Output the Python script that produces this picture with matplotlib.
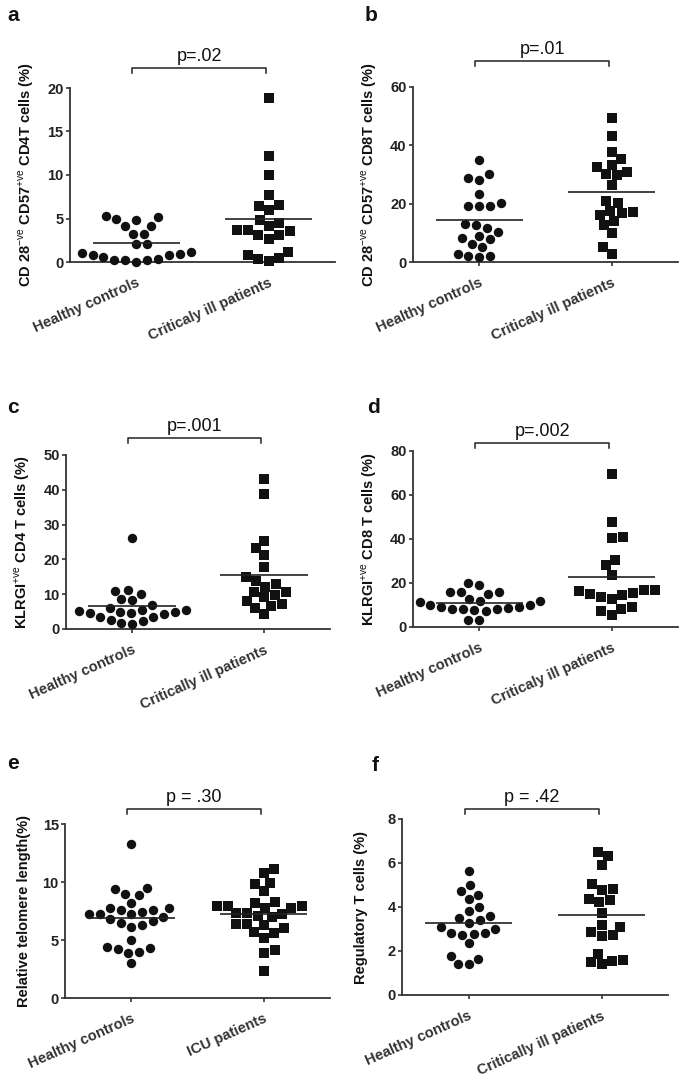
import numpy as np
import matplotlib
matplotlib.use('Agg')
import matplotlib.pyplot as plt
import matplotlib.transforms as mtransforms

plt.rcParams['font.family'] = ['Liberation Sans', 'DejaVu Sans']
plt.rcParams['mathtext.fontset'] = 'custom'
plt.rcParams['mathtext.rm'] = 'Liberation Sans'
plt.rcParams['mathtext.bf'] = 'Liberation Sans:bold'

# ---- data ----
a_healthy = [5.25, 4.94, 4.87, 5.17, 4.18, 4.18, 3.26, 3.26, 2.07, 2.07, 0.77,
             1.11, 0.96, 0.84, 1.03, 0.38, 0.19, 0.23, 0.27, 0.54, 0.0]
a_critical = [18.9, 12.2, 9.96, 7.74, 6.47, 6.59, 6.0, 4.87, 4.18, 4.48, 3.68,
              3.52, 3.14, 2.68, 3.14, 3.64, 1.15, 0.46, 0.08, 0.34, 0.84]

b_healthy = [34.97, 28.9, 28.1, 30.06, 23.3, 20.1, 19.2, 19.2, 19.3, 12.6, 11.8,
             13.0, 10.4, 9.0, 8.0, 8.1, 5.26, 6.3, 2.17, 1.7, 1.94, 2.86]
b_critical = [49.4, 43.3, 37.8, 35.3, 32.5, 33.3, 30.2, 31.0, 29.8, 26.5, 21.0,
              20.3, 17.6, 16.8, 16.0, 17.1, 14.1, 12.6, 9.9, 5.0, 2.86]

c_healthy = [26.1, 11.0, 10.1, 11.1, 8.2, 8.5, 6.9, 5.9, 5.6, 5.0, 5.0, 4.7,
             5.3, 5.6, 4.3, 3.4, 3.4, 2.4, 2.6, 1.5, 1.8, 4.6]
c_critical = [43.2, 38.7, 25.3, 23.2, 21.2, 17.9, 15.0, 13.7, 12.2, 12.9, 10.5,
              10.7, 9.1, 9.8, 8.1, 6.7, 5.9, 7.1, 4.3]

d_healthy = [19.2, 20.0, 15.9, 15.2, 15.8, 16.1, 12.7, 11.7, 11.4, 12.0, 9.8,
             8.9, 7.1, 8.9, 8.3, 7.6, 8.6, 9.8, 8.3, 8.3, 3.2, 3.2]
d_critical = [69.4, 47.7, 40.5, 40.9, 30.5, 28.0, 23.8, 17.0, 16.2, 15.2, 13.6,
              12.9, 14.4, 15.5, 17.0, 8.3, 5.6, 7.4, 9.2]

e_healthy = [13.3, 9.4, 9.5, 8.9, 9.0, 8.2, 7.8, 7.6, 7.6, 7.8, 7.0, 7.2, 7.2,
             7.2, 7.4, 6.65, 6.5, 6.8, 6.3, 6.15, 5.0, 4.4, 4.2, 3.9, 4.3, 3.0, 4.0]
e_icu = [11.1, 10.8, 9.95, 9.8, 9.2, 8.25, 8.15, 7.95, 7.8, 7.8, 7.95, 7.95,
         7.35, 7.2, 7.35, 6.95, 7.1, 6.4, 6.3, 6.4, 6.0, 5.7, 5.6, 5.2, 4.1, 3.9, 2.3]

f_healthy = [5.63, 5.02, 4.72, 4.54, 4.35, 4.0, 3.82, 3.6, 3.52, 3.29, 3.4, 3.02,
             3.08, 2.81, 2.73, 2.78, 2.81, 2.35, 1.62, 1.79, 1.4, 1.4]
f_critical = [6.48, 6.3, 5.9, 5.05, 4.84, 4.78, 4.34, 4.36, 4.23, 3.75, 3.19,
              2.87, 3.11, 2.69, 2.72, 1.87, 1.56, 1.4, 1.5, 1.59]

panel_letters = ['a', 'b', 'c', 'd', 'e', 'f']
p_labels = ['p=.02', 'p=.01', 'p=.001', 'p=.002', 'p = .30', 'p = .42']
y_labels = [r'CD 28$^{\mathrm{-ve}}$ CD57$^{\mathrm{+ve}}$ CD4T cells (%)',
            r'CD 28$^{\mathrm{-ve}}$ CD57$^{\mathrm{+ve}}$ CD8T cells (%)',
            r'KLRGI$^{\mathrm{+ve}}$ CD4 T cells (%)',
            r'KLRGI$^{\mathrm{+ve}}$ CD8 T cells (%)',
            'Relative telomere length(%)',
            'Regulatory T cells (%)']
x_labels = [['Healthy controls', 'Criticaly ill patients'],
            ['Healthy controls', 'Criticaly ill patients'],
            ['Healthy controls', 'Critically ill patients'],
            ['Healthy controls', 'Criticaly ill patients'],
            ['Healthy controls', 'ICU patients'],
            ['Healthy controls', 'Critically ill patients']]
y_max = [20, 60, 50, 80, 15, 8]
y_step = [5, 20, 10, 20, 5, 2]
series = [(a_healthy, a_critical), (b_healthy, b_critical), (c_healthy, c_critical),
          (d_healthy, d_critical), (e_healthy, e_icu), (f_healthy, f_critical)]

# layout in pixels: left, right, top (y max), bottom (y=0)
W, H = 685, 1079
boxes = [(70, 335, 88, 262), (413, 678, 87, 262),
         (66, 330, 455, 629), (413, 678, 451, 627),
         (65, 330, 824, 998), (402, 668, 819, 995)]
bracket_y = [68, 61, 438, 443, 809, 809]
letter_pos = [(7, 21), (365, 21), (7, 413), (367, 413), (7, 769), (372, 771)]

INK = '#111111'


def swarm_x(ax, vals, xc, diam):
    pts = ax.transData.transform(np.column_stack([np.full(len(vals), xc), vals]))
    ypix = pts[:, 1]
    x0 = pts[0, 0]
    placed = []
    off = np.zeros(len(vals))
    flip = 1
    for i in np.argsort(ypix):
        found = None
        for k in range(400):
            cands = [0.0] if k == 0 else [flip * k * 0.5, -flip * k * 0.5]
            for c in cands:
                if all((c - px) ** 2 + (ypix[i] - py) ** 2 >= diam ** 2 for px, py in placed):
                    found = c
                    break
            if found is not None:
                break
        placed.append((found, ypix[i]))
        off[i] = found
        flip = -flip
    inv = ax.transData.inverted()
    return inv.transform(np.column_stack([x0 + off, ypix]))[:, 0]


fig = plt.figure(figsize=(W / 100, H / 100), dpi=100)

for n in range(6):
    l, r, t, b = boxes[n]
    ax = fig.add_axes([l / W, 1 - b / H, (r - l) / W, (b - t) / H])
    ax.set_xlim(-0.5, 1.5)
    ax.set_ylim(0, y_max[n])
    ax.set_yticks(np.arange(0, y_max[n] + 0.1, y_step[n]))
    ax.set_xticks([0, 1])
    ax.set_xticklabels(x_labels[n], rotation=24, ha='right', va='top',
                       rotation_mode='anchor', fontsize=10.5, fontweight='bold', color=INK)
    for lab in ax.get_yticklabels():
        lab.set_fontweight('bold')
    ax.tick_params(axis='y', length=3, width=1.2, labelsize=10.5, colors='#333333',
                   labelcolor='#222222', pad=1.5)
    ax.tick_params(axis='x', length=3, width=1.2, colors='#333333', pad=7)
    for s in ['top', 'right']:
        ax.spines[s].set_visible(False)
    for s in ['left', 'bottom']:
        ax.spines[s].set_linewidth(1.3)
        ax.spines[s].set_color('#333333')

    hv, cv = series[n]
    xs_h = swarm_x(ax, hv, 0, 10.8)
    xs_c = swarm_x(ax, cv, 1, 10.8)
    ax.scatter(xs_h, hv, s=46, marker='o', color=INK, linewidths=0, clip_on=False, zorder=3)
    ax.scatter(xs_c, cv, s=44, marker='s', color=INK, linewidths=0, clip_on=False, zorder=3)
    ax.hlines([np.mean(hv), np.mean(cv)], [-0.33, 0.67], [0.33, 1.33],
              color='#222222', lw=1.2, zorder=4)

    ax.set_ylabel(y_labels[n], fontsize=10.5, fontweight='bold', color=INK)
    ax.yaxis.set_label_coords(-34 / (r - l), 0.5)

    # significance bracket
    tr = mtransforms.blended_transform_factory(ax.transData, fig.transFigure)
    yb = 1 - bracket_y[n] / H
    leg = 5 / H
    ax.plot([-0.03, -0.03, 0.98, 0.98], [yb - leg, yb, yb, yb - leg], color='#222222',
            lw=1.1, transform=tr, clip_on=False)
    ax.text(0.475, yb + 7 / H, p_labels[n], transform=tr, ha='center', va='baseline',
            fontsize=13, color=INK)

    lx, ly = letter_pos[n]
    fig.text(lx / W, 1 - ly / H, panel_letters[n], fontsize=15, fontweight='bold',
             ha='left', va='baseline', color=INK)

fig.savefig('out.png', dpi=100)
